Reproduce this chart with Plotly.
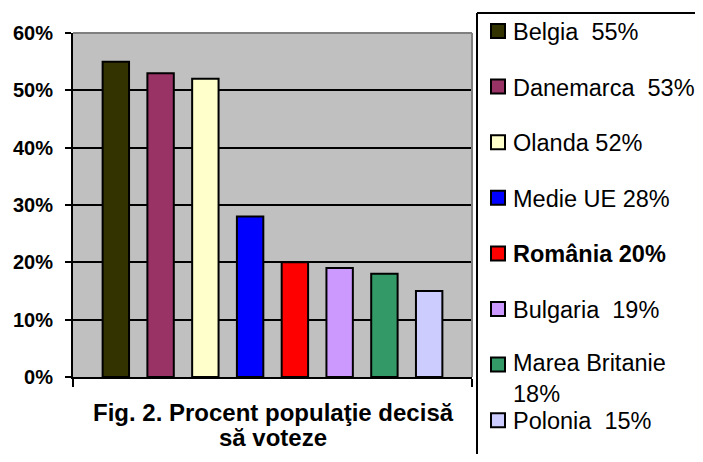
import plotly.graph_objects as go

# ---- data ----
countries = ["Belgia", "Danemarca", "Olanda", "Medie UE", "România", "Bulgaria", "Marea Britanie", "Polonia"]
values = [0.55, 0.53, 0.52, 0.28, 0.20, 0.19, 0.18, 0.15]
legend_labels = ["Belgia\u00a0 55%", "Danemarca\u00a0 53%", "Olanda 52%", "Medie UE 28%",
                 "<b>România 20%</b>", "Bulgaria\u00a0 19%", "Marea Britanie<br>18%", "Polonia\u00a0 15%"]
colors = ["#333300", "#993366", "#FFFFCC", "#0000FF", "#FF0000", "#CC99FF", "#339966", "#CCCCFF"]
y_ticks = [0, 0.1, 0.2, 0.3, 0.4, 0.5, 0.6]
y_tick_labels = ["0%", "10%", "20%", "30%", "40%", "50%", "60%"]
title_lines = ["Fig. 2. Procent populaţie decisă", "să voteze"]

FONT = "Liberation Sans, Arial, sans-serif"

# page body has an 8px margin -> figure coordinates are screen coords minus 8
OFF = 8
FIG_W, FIG_H = 703 - 2 * OFF, 462 - 2 * OFF
L, R, T, B = 73 - OFF, 472 - OFF, 33 - OFF, 377 - OFF
W, H = R - L, B - T


def px(x):
    return (x - OFF - L) / W


def py(y):
    return (B - (y - OFF)) / H


fig = go.Figure()
for name, v, c in zip(countries, values, colors):
    fig.add_trace(go.Bar(
        x=["Procent"], y=[v], name=name,
        marker=dict(color=c, line=dict(color="black", width=2)),
        showlegend=False,
    ))

shapes = []
annotations = []

# plot-area gray border (top and right)
shapes.append(dict(type="line", xref="paper", yref="paper", x0=0, x1=1, y0=1, y1=1,
                   line=dict(color="#808080", width=2), layer="above"))
shapes.append(dict(type="line", xref="paper", yref="paper", x0=1, x1=1, y0=0, y1=1,
                   line=dict(color="#808080", width=2), layer="above"))

# legend box: left and top edges (rest runs off the page)
shapes.append(dict(type="line", xref="paper", yref="paper",
                   x0=px(477), x1=px(477), y0=py(470), y1=py(13),
                   line=dict(color="black", width=2)))
shapes.append(dict(type="line", xref="paper", yref="paper",
                   x0=px(477), x1=px(710), y0=py(13), y1=py(13),
                   line=dict(color="black", width=2)))

LEG_FONT = 23.5
step = 55.6
y0 = 32
for i, (lab, c) in enumerate(zip(legend_labels, colors)):
    yc = y0 + i * step
    shapes.append(dict(type="rect", xref="paper", yref="paper",
                       x0=px(491), x1=px(505), y0=py(yc + 6), y1=py(yc - 8),
                       line=dict(color="black", width=2), fillcolor=c))
    nlines = lab.count("<br>") + 1
    yc_box = yc + (nlines - 1) * 25 / 2
    annotations.append(dict(xref="paper", yref="paper", x=px(511), y=py(yc_box),
                            xanchor="left", yanchor="middle", text=lab, showarrow=False,
                            align="left",
                            font=dict(family=FONT, size=LEG_FONT, color="black")))

# caption
for j, line in enumerate(title_lines):
    annotations.append(dict(xref="paper", yref="paper", x=px(273), y=py(412 + j * 25),
                            xanchor="center", yanchor="middle", text=f"<b>{line}</b>",
                            showarrow=False,
                            font=dict(family=FONT, size=24, color="black")))

fig.update_layout(
    width=FIG_W, height=FIG_H,
    margin=dict(l=L, r=FIG_W - R, t=T, b=FIG_H - B, pad=0, autoexpand=False),
    paper_bgcolor="white", plot_bgcolor="#C0C0C0",
    barmode="group", bargap=0.1025, bargroupgap=0.41,
    showlegend=False,
    shapes=shapes, annotations=annotations,
    font=dict(family=FONT, color="black"),
)
fig.update_xaxes(
    automargin=False,
    showticklabels=False, showgrid=False, zeroline=False,
    showline=True, linecolor="black", linewidth=2,
    ticks="outside", tickson="boundaries", ticklen=8, tickwidth=2, tickcolor="black",
)
fig.update_yaxes(
    automargin=False,
    range=[0, 0.6], tickvals=y_ticks, ticktext=[f"<b>{t}</b>" for t in y_tick_labels],
    showgrid=True, gridcolor="black", gridwidth=2, zeroline=False,
    showline=True, linecolor="black", linewidth=2,
    ticks="outside", ticklen=6, tickwidth=2, tickcolor="black",
    ticklabelstandoff=8,
    tickfont=dict(family=FONT, size=20, color="black"),
)

fig.write_html("out.html")
